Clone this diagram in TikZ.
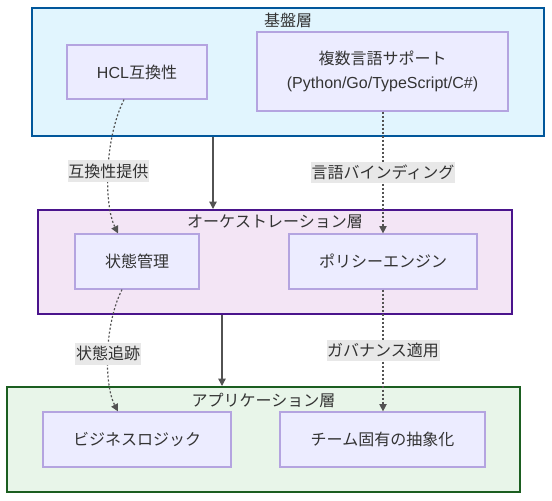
\documentclass[tikz,border=0pt]{standalone}
\usepackage{fontspec}
\setmainfont{Noto Sans CJK JP}
\newfontfamily\latinfont{Liberation Sans}
\usetikzlibrary{arrows.meta,calc}

\definecolor{txtgray}{HTML}{333333}
\definecolor{nodefill}{HTML}{ECECFF}
\definecolor{nodeline}{HTML}{B4A4E0}
\definecolor{basefill}{HTML}{E1F5FE}
\definecolor{baseline}{HTML}{01579B}
\definecolor{orchfill}{HTML}{F3E5F5}
\definecolor{orchline}{HTML}{4A148C}
\definecolor{appfill}{HTML}{E8F5E9}
\definecolor{appline}{HTML}{1B5E20}
\definecolor{edgebg}{HTML}{E8E8E8}

\tikzset{
  box/.style={draw=nodeline, fill=nodefill, line width=0.9pt, text=txtgray,
    font=\fontsize{12pt}{17.5pt}\selectfont, align=center, inner sep=0pt},
  layer/.style={line width=1.5pt, inner sep=0pt},
  layertitle/.style={text=txtgray, font=\fontsize{12pt}{14pt}\selectfont, inner sep=0pt},
  solidlink/.style={draw=txtgray!85, line width=1pt, -{Triangle[length=5.5pt,width=5.5pt]}},
  dotlink/.style={draw=txtgray!85, line width=0.9pt, dash pattern=on 1.5pt off 1.5pt,
    -{Triangle[length=5.5pt,width=5.5pt]}},
  edgelabel/.style={fill=edgebg, text=txtgray, font=\fontsize{12pt}{14pt}\selectfont,
    inner xsep=0.5pt, inner ysep=2.5pt, solid}
}

\begin{document}
\begin{tikzpicture}[x=0.75pt, y=-0.75pt]
\useasboundingbox (0,0) rectangle (552,500);

% layers
\node[layer, draw=baseline, fill=basefill, minimum width=384pt, minimum height=96pt] (base) at (288,72) {};
\node[layer, draw=orchline, fill=orchfill, minimum width=355.5pt, minimum height=78pt] (orch) at (275,262) {};
\node[layer, draw=appline, fill=appfill, minimum width=384.75pt, minimum height=78.75pt] (app) at (263.5,439.5) {};

\node[layertitle] (basetitle) at (288,20) {基盤層};
\node[layertitle] (orchtitle) at (275,222) {オーケストレーション層};
\node[layertitle] (apptitle) at (263.5,400) {アプリケーション層};

% nodes
\node[box, minimum width=105pt, minimum height=40.5pt] (hcl) at (137,72) {{\latinfont HCL}互換性};
\node[box, minimum width=188.25pt, minimum height=59.25pt] (lang) at (382.5,71.5) {複数言語サポート\\{\latinfont (Python/Go/TypeScript/C\#)}};
\node[box, minimum width=93pt, minimum height=41.25pt] (state) at (137,261.5) {状態管理};
\node[box, minimum width=141pt, minimum height=41.25pt] (policy) at (383,261.5) {ポリシーエンジン};
\node[box, minimum width=141pt, minimum height=41.25pt] (biz) at (137,439.5) {ビジネスロジック};
\node[box, minimum width=153.75pt, minimum height=41.25pt] (team) at (382.5,439.5) {チーム固有の抽象化};

% links between layers
\coordinate (c1) at (213,0);
\coordinate (c2) at (222,0);
\path[solidlink] (base.south -| c1) -- (orch.north -| c1);
\path[solidlink] (orch.south -| c2) -- (app.north -| c2);

% dotted links
\path[dotlink] ($(hcl.south)+(-13,0)$) .. controls (104,140) and (104,205) .. ($(state.north)+(-19,0)$)
  node[edgelabel, pos=0.5] {互換性提供};
\path[dotlink] (lang.south -| policy.north) -- (policy.north)
  node[edgelabel, midway] {言語バインディング};
\path[dotlink] ($(state.south)+(-15,0)$) .. controls (104,325) and (104,385) .. ($(biz.north)+(-19,0)$)
  node[edgelabel, pos=0.5] {状態追跡};
\path[dotlink] (policy.south) -- (team.north -| policy.south)
  node[edgelabel, midway] {ガバナンス適用};
\end{tikzpicture}
\end{document}
